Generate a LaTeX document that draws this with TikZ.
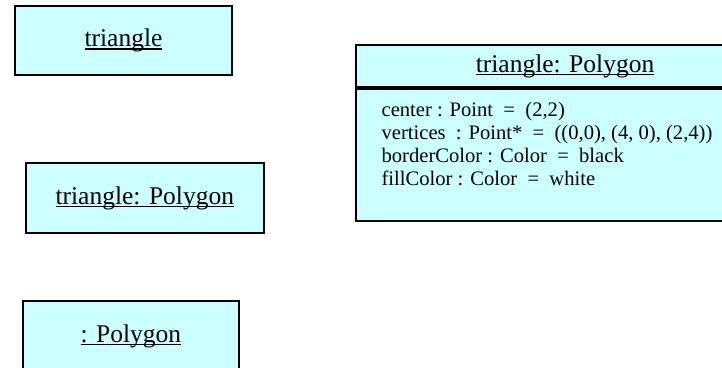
\documentclass[tikz,border=0pt]{standalone}
\usepackage{fontspec}
\setmainfont{Liberation Serif}
\definecolor{objfill}{RGB}{204,255,255}
\newsavebox\ulbox
\newcommand\ulin[1]{\sbox\ulbox{#1}\rlap{\rule[-3.2pt]{\wd\ulbox}{1.7pt}}\usebox\ulbox}
\tikzset{
  objbox/.style={draw=black, line width=2.2pt, fill=objfill, rectangle, inner sep=0pt,
    font=\fontsize{25.5}{30}\selectfont},
  attr/.style={anchor=base west, inner sep=0pt, font=\fontsize{20.6}{23}\selectfont}
}
\begin{document}
\begin{tikzpicture}[x=1pt,y=-1pt]
\useasboundingbox (0,0) rectangle (722,367);
\clip (0,0) rectangle (722,367);
\node[objbox, minimum width=217pt, minimum height=69pt] (t1) at (123.5,40.3) {\ulin{triangle}};
\node[objbox, minimum width=238pt, minimum height=70pt] (t2) at (144.8,198) {\ulin{triangle: Polygon}};
\node[objbox, minimum width=216pt, minimum height=70pt] (t3) at (130.8,336) {\ulin{: Polygon}};
\node[objbox, minimum width=418pt, minimum height=42pt] (hdr) at (565,66) {\ulin{triangle: Polygon}};
\node[objbox, minimum width=418pt, minimum height=132pt, anchor=north] (body) at (hdr.south) {};
\node[attr] (a1) at ([xshift=26.5pt,yshift=-28.5pt]body.north west) {center : Point \ = \ (2,2)};
\node[attr] (a2) at ([yshift=-23pt]a1.base west) {vertices \ : Point* \ = \ ((0,0), (4, 0), (2,4))};
\node[attr] (a3) at ([yshift=-23pt]a2.base west) {borderColor : Color \ = \ black};
\node[attr] (a4) at ([yshift=-23pt]a3.base west) {fillColor : Color \ = \ white};
\end{tikzpicture}
\end{document}
